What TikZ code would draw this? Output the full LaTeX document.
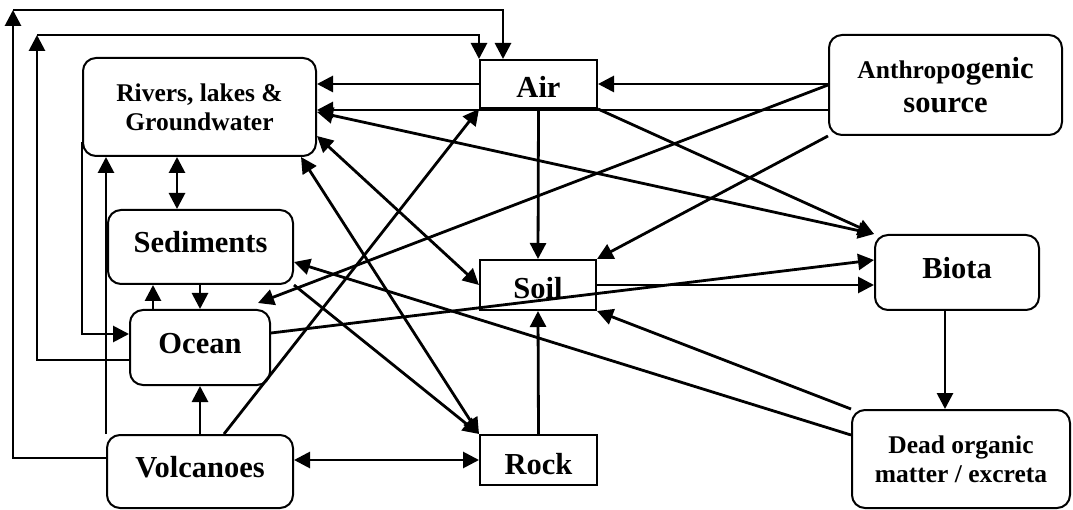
\documentclass[tikz,border=0pt]{standalone}
\usepackage{fontspec}
\setmainfont{Liberation Serif}
\usetikzlibrary{arrows.meta,calc}
\begin{document}
\begin{tikzpicture}[x=1pt,y=-1pt,
  rbox/.style={draw, line width=2pt, rounded corners=13pt, inner sep=0pt, align=center,
               font=\bfseries\fontsize{30.5}{34}\selectfont},
  sbox/.style={rbox, sharp corners},
  small/.style={font=\bfseries\fontsize{25.5}{29}\selectfont},
  oneline/.style={text height=21pt, text depth=9pt},
  oneflat/.style={text height=28pt, text depth=0pt},
  tip/.style={Triangle[length=16pt,width=16pt]},
  flow/.style={line width=2.8pt, -{Triangle[length=16pt,width=16pt]}},
  both/.style={line width=2.8pt, {Triangle[length=16pt,width=16pt]}-{Triangle[length=16pt,width=16pt]}},
]
\useasboundingbox (0,0) rectangle (1073,510);

% compartments
\node[rbox, small, minimum width=233pt, minimum height=98pt] (rivers) at (199.5,107) {Rivers, lakes \&\\Groundwater};
\node[sbox, oneflat, minimum width=117pt, minimum height=48pt] (air) at (538.5,84) {Air};
\node[rbox, minimum width=233pt, minimum height=100pt] (anth) at (945.5,85)
  {{\fontsize{25.5}{34}\selectfont Anthrop}ogenic\\source};
\node[rbox, oneline, minimum width=185pt, minimum height=74pt] (sed) at (200.5,247) {Sediments};
\node[sbox, oneflat, minimum width=116pt, minimum height=50pt] (soil) at (538,285) {Soil};
\node[rbox, oneline, minimum width=164pt, minimum height=75pt] (biota) at (957,272.5) {Biota};
\node[rbox, oneline, minimum width=140pt, minimum height=75pt] (ocean) at (200,347.5) {Ocean};
\node[rbox, oneline, minimum width=186pt, minimum height=73pt] (volc) at (200,471.5) {Volcanoes};
\node[sbox, oneflat, minimum width=117pt, minimum height=50pt] (rock) at (538.5,460) {Rock};
\node[rbox, small, minimum width=218pt, minimum height=98pt] (dead) at (961,459) {Dead organic\\matter / excreta};

% bends of the two long loops
\coordinate (c1) at (13,10);
\coordinate (c2) at (37,35);

% long loops up to the air
\draw[flow] (volc.west |- 0,458) -| (c1);
\draw[flow] (c1) -| ($(air.north west)+(24,0)$);
\draw[flow] (ocean.west |- 0,360) -| (c2);
\draw[flow] (c2) -| (air.north west);

% top row
\draw[flow] (air.west) -- (rivers.east |- air.west);
\draw[flow] (anth.west |- air.east) -- (air.east);
\draw[flow] (anth.west |- 0,110) -- (rivers.east |- 0,110);
\draw[both] (rivers.east |- 0,112) -- (biota.north west);
\draw[flow] (air.south east) -- (biota.north west);
\draw[flow] (anth.west) -- ($(ocean.north east)+(-13,-6)$);
\draw[flow] (anth.south west) -- (soil.north east);
\draw[flow] (air.south) -- (soil.north);

% exchanges with rivers, sediments and rock
\draw[both] (rivers.east |- 0,136) -- (soil.west);
\draw[both] ($(rivers.south east)+(-16,0)$) -- (rock.north west);
\draw[flow] (sed.south east) -- (rock.north west);
\draw[flow] (dead.west |- 0,435) -- (sed.east |- 0,262);
\draw[flow] (dead.north west) -- (soil.south east);
\draw[flow] (soil.east) -- (biota.west |- soil.east);
\draw[flow] (ocean.east |- 0,333) -- (biota.west |- 0,260);
\draw[flow] (rock.north) -- (soil.south);

% volcanoes
\draw[both] (volc.east |- rock.west) -- (rock.west);
\draw[flow] (volc.north) -- (ocean.south);
\draw[flow] ($(volc.north)+(24,0)$) -- (air.south west);
\draw[flow] (volc.north west) -- (volc.north west |- rivers.south);

% left column
\draw[flow] ($(rivers.south west)+(0,-15)$) |- (ocean.west |- 0,334);
\draw[both] (rivers.south -| 177,0) -- (sed.north -| 177,0);
\draw[flow] (ocean.north -| 153,0) -- (sed.south -| 153,0);
\draw[flow] (sed.south -| ocean.north) -- (ocean.north);

% biota to dead matter
\draw[flow] (biota.south -| 945,0) -- (dead.north -| 945,0);
\end{tikzpicture}
\end{document}
